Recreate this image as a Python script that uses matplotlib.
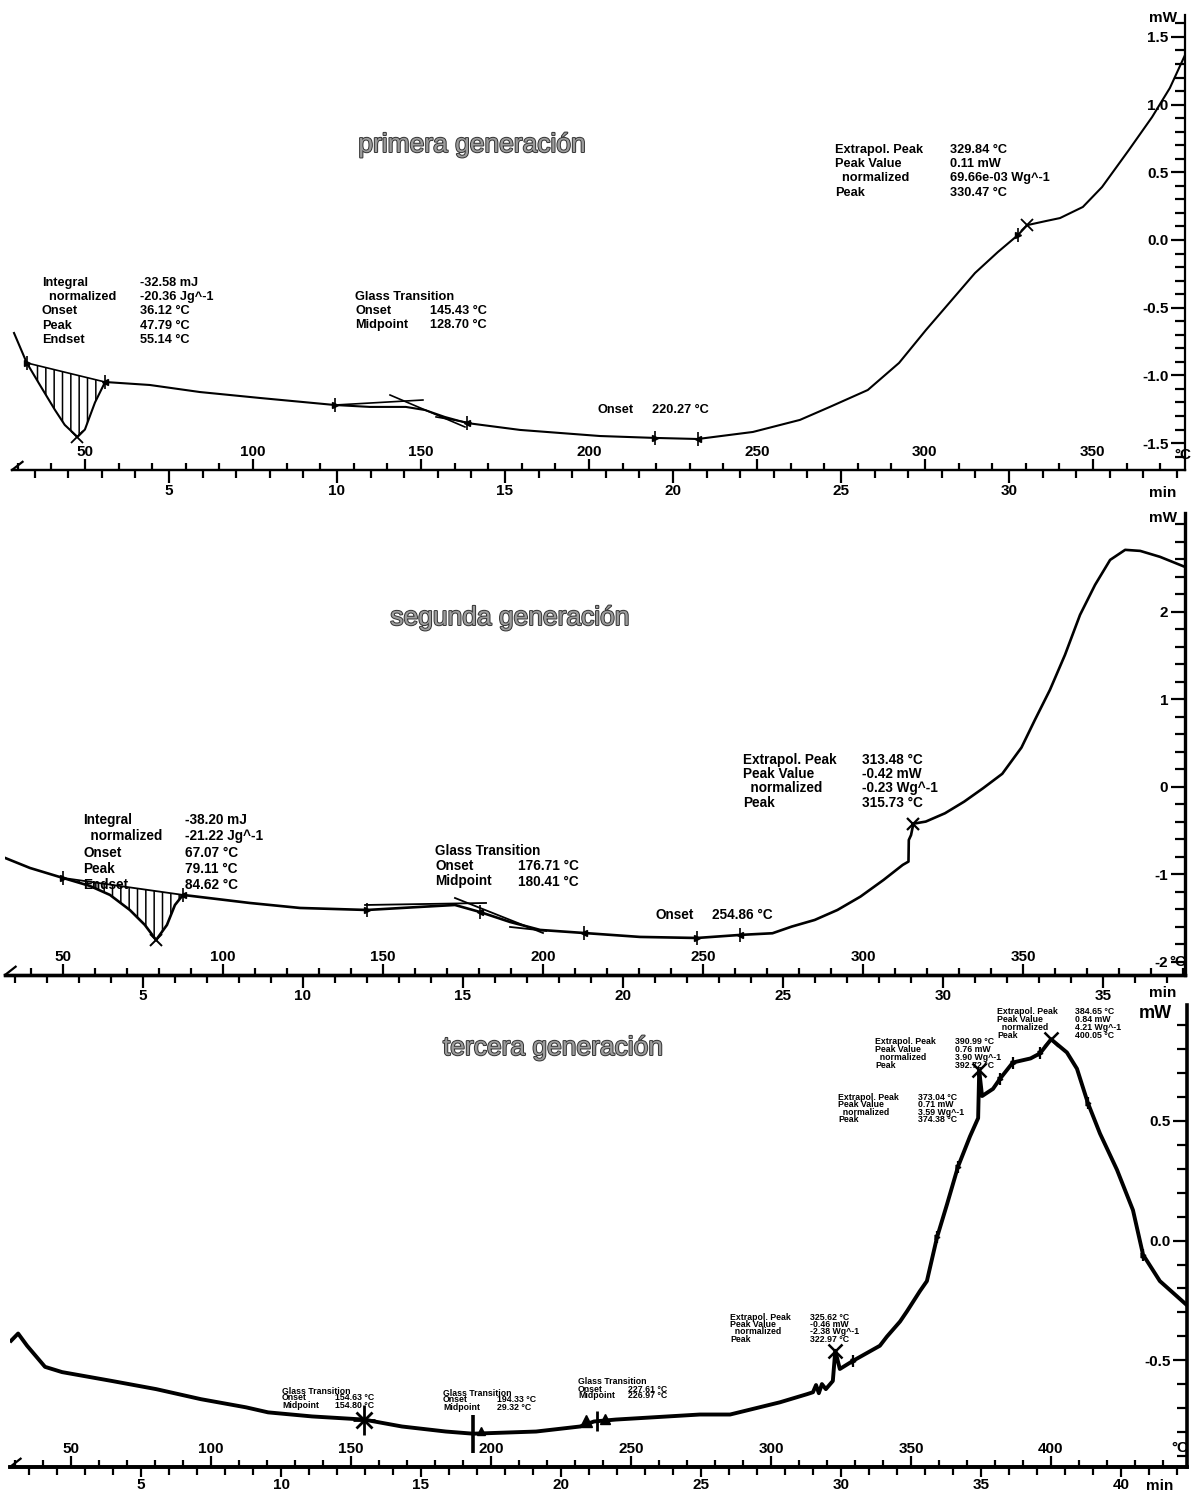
import numpy as np
import matplotlib
matplotlib.use("Agg")
import matplotlib.pyplot as plt
import matplotlib.patheffects as pe
from matplotlib.ticker import MultipleLocator

plt.rcParams['font.family'] = ['Liberation Sans', 'DejaVu Sans']
plt.rcParams['hatch.linewidth'] = 1.1

# ---------------- primera generación ----------------
g1_temp = [28.9, 32.7, 36.6, 41.1, 44.0, 47.79, 50.0, 53.0, 56.0, 69.3, 84.2, 102.1,
           124.4, 134.8, 145.5, 151.2, 157.1, 163.7, 179.5, 203.3, 219.6, 232.4,
           248.8, 262.8, 271.7, 283.0, 292.3, 300.3, 308.0, 314.9, 321.7, 327.7,
           330.47, 336.0, 340.2, 347.0, 352.7, 360.7, 367.6, 372.9, 377.4]
g1_mw = [-0.687, -0.908, -1.071, -1.256, -1.366, -1.455, -1.400, -1.200, -1.049, -1.071,
         -1.123, -1.167, -1.219, -1.233, -1.233, -1.256, -1.307, -1.352, -1.403, -1.448,
         -1.462, -1.470, -1.418, -1.329, -1.233, -1.108, -0.908, -0.665, -0.443, -0.244,
         -0.089, 0.037, 0.11, 0.140, 0.162, 0.244, 0.391, 0.665, 0.908, 1.123, 1.366]
g1_melt_limits = [32.7, 56.0]
g1_left_flags = [124.4, 219.6, 327.7]
g1_right_flags = [163.7, 232.4]
g1_peak = [330.47, 0.11]
g1_melt_peak = [47.79, -1.455]
g1_tg_upper = ([124.4, 150.6], [-1.219, -1.182])
g1_tg_inflect = ([140.8, 163.1], [-1.145, -1.381])
g1_tg_lower = ([154.5, 164.9], [-1.307, -1.352])
g1_temp_ticks = [50, 100, 150, 200, 250, 300, 350]
g1_min_ticks = [5, 10, 15, 20, 25, 30]
g1_mw_ticks = [-1.5, -1.0, -0.5, 0.0, 0.5, 1.0, 1.5]
g1_mw_labels = ['-1.5', '-1.0', '-0.5', '0.0', '0.5', '1.0', '1.5']

# ---------------- segunda generación ----------------
g2_temp = [31.9, 39.7, 50.0, 58.4, 64.7, 70.9, 75.6, 79.11, 82.5, 85.0, 87.5, 108.4,
           124.1, 145.0, 161.6, 172.5, 180.3, 189.7, 199.1, 212.8, 230.3, 248.1,
           261.6, 271.7, 277.7, 284.9, 292.0, 299.2, 306.4, 312.4, 314.2, 314.3,
           315.0, 315.73, 319.6, 325.6, 331.6, 337.5, 343.5, 349.5, 353.7, 358.4,
           363.1, 367.8, 372.5, 377.2, 381.9, 386.6, 392.8, 400.6]
g2_mw = [-0.811, -0.926, -1.04, -1.131, -1.234, -1.406, -1.577, -1.749, -1.577, -1.349,
         -1.234, -1.326, -1.383, -1.406, -1.371, -1.349, -1.429, -1.543, -1.634, -1.669,
         -1.714, -1.726, -1.691, -1.672, -1.596, -1.52, -1.406, -1.253, -1.063, -0.891,
         -0.853, -0.606, -0.55, -0.42, -0.396, -0.301, -0.168, -0.015, 0.15, 0.45,
         0.766, 1.109, 1.509, 1.966, 2.309, 2.594, 2.709, 2.697, 2.629, 2.514]
g2_melt_limits = [50.0, 87.5]
g2_left_flags = [145.0, 248.1]
g2_right_flags = [180.3, 212.8, 261.6]
g2_peak = [315.73, -0.42]
g2_melt_peak = [79.11, -1.749]
g2_tg_upper = ([144.4, 182.2], [-1.349, -1.326])
g2_tg_inflect = ([172.5, 200.0], [-1.269, -1.669])
g2_tg_lower = ([189.7, 201.0], [-1.60, -1.645])
g2_temp_ticks = [50, 100, 150, 200, 250, 300, 350]
g2_min_ticks = [5, 10, 15, 20, 25, 30, 35]
g2_mw_ticks = [-2, -1, 0, 1, 2]
g2_mw_labels = ['-2', '-1', '0', '1', '2']

# ---------------- tercera generación ----------------
g3_temp = [28.6, 31.1, 34.3, 40.7, 46.8, 64.6, 80.4, 96.4, 112.5, 120.4, 136.1, 154.6,
           168.2, 183.9, 193.6, 216.1, 231.8, 236.8, 244.6, 274.6, 285.4, 303.2,
           312.9, 315.0, 316.1, 317.1, 318.2, 319.6, 322.1, 322.97, 324.6, 329.3,
           338.9, 341.4, 346.1, 348.6, 353.2, 355.7, 359.3, 362.9, 366.8, 371.1,
           374.0, 374.38, 375.4, 379.3, 381.8, 386.4, 392.72, 396.1, 400.05, 405.7,
           409.3, 413.2, 417.5, 423.6, 429.3, 432.9, 438.9, 448.6]
g3_mw = [-0.418, -0.388, -0.439, -0.527, -0.549, -0.586, -0.620, -0.662, -0.696, -0.717,
         -0.734, -0.747, -0.776, -0.797, -0.806, -0.797, -0.776, -0.755, -0.747, -0.726,
         -0.726, -0.675, -0.641, -0.633, -0.603, -0.637, -0.599, -0.62, -0.586, -0.46,
         -0.536, -0.502, -0.439, -0.401, -0.338, -0.295, -0.211, -0.169, 0.013, 0.152,
         0.308, 0.435, 0.511, 0.71, 0.603, 0.633, 0.675, 0.743, 0.76, 0.781, 0.84,
         0.785, 0.717, 0.574, 0.447, 0.295, 0.127, -0.059, -0.169, -0.270]
g3_peaks_T = [322.97, 374.38, 400.05]
g3_peaks_mw = [-0.46, 0.71, 0.84]
g3_small_flags = [359.3, 366.8, 381.8, 386.4, 396.1, 413.2, 432.9, 329.3]
g3_tg_temps = [154.6, 193.6, 236.8]
g3_temp_ticks = [50, 100, 150, 200, 250, 300, 350, 400]
g3_min_ticks = [5, 10, 15, 20, 25, 30, 35, 40]
g3_mw_ticks = [-0.5, 0.0, 0.5]
g3_mw_labels = ['-0.5', '0.0', '0.5']

# heating programme: 10 K/min starting from 25 °C
START_C = 25.0
RATE = 10.0


def to_minutes(T):
    return (np.asarray(T) - START_C) / RATE


def to_celsius(t):
    return np.asarray(t) * RATE + START_C


W, H = 1196, 1495
fig = plt.figure(figsize=(W / 100, H / 100), dpi=100)


def rect_px(left, top, right, bottom):
    return [left / W, 1 - bottom / H, (right - left) / W, (bottom - top) / H]


def ftext(x, y, s, **kw):
    kw.setdefault('va', 'center')
    kw.setdefault('ha', 'left')
    fig.text(x / W, 1 - y / H, s, **kw)


def build_panel(rect, xlim, ylim, temp_ticks, min_ticks, mw_ticks, mw_labels,
                mw_minor, spine_lw, tick_fs=11, time_len=9):
    ax = fig.add_axes(rect)
    ax.set_xlim(*xlim)
    ax.set_ylim(*ylim)
    for side in ('top', 'left', 'right', 'bottom'):
        ax.spines[side].set_visible(False)
    ax.tick_params(which='both', bottom=False, left=False,
                   labelbottom=False, labelleft=False)
    ax.patch.set_alpha(0)

    # temperature scale: ticks upwards, labels above the base line
    temp_ax = ax.secondary_xaxis(0.0)
    temp_ax.set_alignment('top')
    temp_ax.set_ticks(temp_ticks, labels=[str(v) for v in temp_ticks],
                      fontweight='bold', fontsize=tick_fs)
    temp_ax.xaxis.set_minor_locator(MultipleLocator(10))
    temp_ax.tick_params(which='major', length=8, width=1.6, pad=0)
    temp_ax.tick_params(which='minor', length=5, width=1.6)
    for sp in temp_ax.spines.values():
        sp.set_linewidth(spine_lw)

    # time scale: ticks downwards, labels below
    time_ax = ax.secondary_xaxis('bottom', functions=(to_minutes, to_celsius))
    time_ax.set_ticks(min_ticks, labels=[str(v) for v in min_ticks],
                      fontweight='bold', fontsize=tick_fs)
    time_ax.xaxis.set_minor_locator(MultipleLocator(1))
    time_ax.tick_params(which='major', length=time_len, width=1.6, pad=1)
    time_ax.tick_params(which='minor', length=6, width=1.6)
    for sp in time_ax.spines.values():
        sp.set_linewidth(spine_lw)

    # heat flow scale on the right, labels to the left of the line
    mw_ax = ax.secondary_yaxis('right')
    mw_ax.set_alignment('left')
    mw_ax.set_ticks(mw_ticks, labels=mw_labels, fontweight='bold', fontsize=tick_fs)
    mw_ax.yaxis.set_minor_locator(MultipleLocator(mw_minor))
    mw_ax.tick_params(which='major', length=10, width=1.6, pad=2)
    mw_ax.tick_params(which='minor', length=7, width=1.6)
    for sp in mw_ax.spines.values():
        sp.set_linewidth(spine_lw)

    # small arrow head at the start of the base line
    ax.plot([0.0, 0.009], [0.0, 0.018], transform=ax.transAxes, color='black',
            lw=1.6, clip_on=False)
    return ax


def flags(ax, temps, curve_T, curve_mw, side, size=6, lw=1.2):
    ys = np.interp(temps, curve_T, curve_mw)
    ax.plot(temps, ys, ls='none', marker='|', ms=size * 1.6, mew=lw, color='black')
    ax.plot(temps, ys, ls='none', marker=side, ms=size * 0.7, color='black')


def melt_area(ax, curve_T, curve_mw, limits, lw):
    T = np.asarray(curve_T)
    m = np.asarray(curve_mw)
    sel = (T >= limits[0]) & (T <= limits[1])
    lim_mw = np.interp(limits, T, m)
    base = np.interp(T[sel], limits, lim_mw)
    ax.fill_between(T[sel], base, m[sel], facecolor='none', edgecolor='black',
                    hatch='||', linewidth=0)
    ax.plot(limits, lim_mw, color='black', lw=lw)


# ---------------- panel 1 ----------------
ax1 = build_panel(rect_px(12, 15, 1185, 470), (28.3, 377.4), (-1.699, 1.662),
                  g1_temp_ticks, g1_min_ticks, g1_mw_ticks, g1_mw_labels, 0.1, 1.6)
ax1.plot(g1_temp, g1_mw, color='black', lw=1.5)
melt_area(ax1, g1_temp, g1_mw, g1_melt_limits, 1.2)
flags(ax1, g1_melt_limits[:1], g1_temp, g1_mw, '>')
flags(ax1, g1_melt_limits[1:], g1_temp, g1_mw, '<')
flags(ax1, g1_left_flags, g1_temp, g1_mw, '>')
flags(ax1, g1_right_flags, g1_temp, g1_mw, '<')
for seg in (g1_tg_upper, g1_tg_inflect, g1_tg_lower):
    ax1.plot(seg[0], seg[1], color='black', lw=1.2)
ax1.plot(*g1_melt_peak, marker='x', ms=9, mew=1.3, color='black')
ax1.plot(*g1_peak, marker='x', ms=9, mew=1.3, color='black')

# ---------------- panel 2 ----------------
ax2 = build_panel(rect_px(5, 513, 1185, 975), (31.9, 400.6), (-2.149, 3.13),
                  g2_temp_ticks, g2_min_ticks, g2_mw_ticks, g2_mw_labels, 0.2, 2.4)
ax2.plot(g2_temp, g2_mw, color='black', lw=1.9)
melt_area(ax2, g2_temp, g2_mw, g2_melt_limits, 1.3)
flags(ax2, g2_melt_limits[:1], g2_temp, g2_mw, '>')
flags(ax2, g2_melt_limits[1:], g2_temp, g2_mw, '<')
flags(ax2, g2_left_flags, g2_temp, g2_mw, '>')
flags(ax2, g2_right_flags, g2_temp, g2_mw, '<')
for seg in (g2_tg_upper, g2_tg_inflect, g2_tg_lower):
    ax2.plot(seg[0], seg[1], color='black', lw=1.3)
ax2.plot(*g2_melt_peak, marker='x', ms=9, mew=1.4, color='black')
ax2.plot(*g2_peak, marker='x', ms=9, mew=1.6, color='black')

# ---------------- panel 3 ----------------
ax3 = build_panel(rect_px(10, 1005, 1187, 1467), (28.2, 448.6), (-0.945, 0.983),
                  g3_temp_ticks, g3_min_ticks, g3_mw_ticks, g3_mw_labels, 0.1, 2.6,
                  time_len=7)
ax3.plot(g3_temp, g3_mw, color='black', lw=2.8, solid_joinstyle='round')
ax3.plot(g3_peaks_T, g3_peaks_mw, ls='none', marker='x', ms=10, mew=1.8, color='black')
flags(ax3, g3_small_flags, g3_temp, g3_mw, '>', size=5, lw=1.6)
tg_mw = np.interp(g3_tg_temps, g3_temp, g3_mw)
ax3.plot(g3_tg_temps[0], tg_mw[0], marker='x', ms=12, mew=2.0, color='black')
ax3.plot(g3_tg_temps[0], tg_mw[0], marker='|', ms=22, mew=2.0, color='black')
ax3.plot(g3_tg_temps[0], tg_mw[0], marker='_', ms=16, mew=2.0, color='black')
ax3.plot(g3_tg_temps[1], tg_mw[1], marker='|', ms=28, mew=2.6, color='black')
ax3.plot(g3_tg_temps[1] + 3, tg_mw[1] + 0.01, marker='^', ms=6, color='black')
ax3.plot(np.array(g3_tg_temps[2]) - 3, tg_mw[2], marker='^', ms=8, color='black')
ax3.plot(g3_tg_temps[2] + 1, tg_mw[2], marker='|', ms=14, mew=2.0, color='black')
ax3.plot(g3_tg_temps[2] + 4, tg_mw[2] + 0.01, marker='^', ms=7, color='black')

# ---------------- axis captions ----------------
cap = dict(fontweight='bold', fontsize=11)
ftext(1163, 18, 'mW', ha='center', **cap)
ftext(1183, 455, '°C', ha='center', **cap)
ftext(1163, 493, 'min', ha='center', **cap)
ftext(1163, 518, 'mW', ha='center', **cap)
ftext(1178, 962, '°C', ha='center', **cap)
ftext(1163, 993, 'min', ha='center', **cap)
ftext(1155, 1013, 'mW', ha='center', fontweight='bold', fontsize=13)
ftext(1180, 1448, '°C', ha='center', **cap)
ftext(1160, 1486, 'min', ha='center', **cap)

# ---------------- titles ----------------
title_kw = dict(ha='center', fontsize=19, color='#9c9c9c', fontweight='normal',
                path_effects=[pe.withStroke(linewidth=1.4, foreground='#333333')])
ftext(472, 145, 'primera generación', **title_kw)
ftext(510, 618, 'segunda generación', **title_kw)
ftext(553, 1048, 'tercera generación', **title_kw)


def block(x, y, rows, vx, dy, size, weight='normal'):
    for i, (lab, val) in enumerate(rows):
        ftext(x, y + i * dy, lab, fontsize=size, fontweight=weight)
        ftext(vx, y + i * dy, val, fontsize=size, fontweight=weight)


# panel 1 evaluations
p1 = 9.2
block(42, 283, [('Integral', '-32.58 mJ'), ('  normalized', '-20.36 Jg^-1'),
                ('Onset', '36.12 °C'), ('Peak', '47.79 °C'), ('Endset', '55.14 °C')],
      140, 14.2, p1, 'bold')
ftext(355, 297, 'Glass Transition', fontsize=p1, fontweight='bold')
block(355, 311, [('Onset', '145.43 °C'), ('Midpoint', '128.70 °C')], 430, 14.2, p1, 'bold')
block(835, 150, [('Extrapol. Peak', '329.84 °C'), ('Peak Value', '0.11 mW'),
                 ('  normalized', '69.66e-03 Wg^-1'), ('Peak', '330.47 °C')],
      950, 14.2, p1, 'bold')
block(597, 410, [('Onset', '220.27 °C')], 652, 14, p1, 'bold')

# panel 2 evaluations
p2 = 9.8
block(83, 820, [('Integral', '-38.20 mJ'), ('  normalized', '-21.22 Jg^-1'),
                ('Onset', '67.07 °C'), ('Peak', '79.11 °C'), ('Endset', '84.62 °C')],
      185, 16.3, p2, 'bold')
ftext(435, 851, 'Glass Transition', fontsize=p2, fontweight='bold')
block(435, 866, [('Onset', '176.71 °C'), ('Midpoint', '180.41 °C')], 518, 15.5, p2, 'bold')
block(743, 760, [('Extrapol. Peak', '313.48 °C'), ('Peak Value', '-0.42 mW'),
                 ('  normalized', '-0.23 Wg^-1'), ('Peak', '315.73 °C')],
      862, 14.2, p2, 'bold')
block(656, 915, [('Onset', '254.86 °C')], 712, 14, p2, 'bold')

# panel 3 evaluations
small = 6.3
block(997, 1012, [('Extrapol. Peak', '384.65 °C'), ('Peak Value', '0.84 mW'),
                  ('  normalized', '4.21 Wg^-1'), ('Peak', '400.05 °C')],
      1075, 7.8, small, 'bold')
block(875, 1042, [('Extrapol. Peak', '390.99 °C'), ('Peak Value', '0.76 mW'),
                  ('  normalized', '3.90 Wg^-1'), ('Peak', '392.72 °C')],
      955, 7.8, small, 'bold')
block(838, 1097, [('Extrapol. Peak', '373.04 °C'), ('Peak Value', '0.71 mW'),
                  ('  normalized', '3.59 Wg^-1'), ('Peak', '374.38 °C')],
      918, 7.6, small, 'bold')
block(730, 1317, [('Extrapol. Peak', '325.62 °C'), ('Peak Value', '-0.46 mW'),
                  ('  normalized', '-2.38 Wg^-1'), ('Peak', '322.97 °C')],
      810, 7.4, small, 'bold')
ftext(282, 1391, 'Glass Transition', fontsize=small, fontweight='bold')
block(282, 1398, [('Onset', '154.63 °C'), ('Midpoint', '154.80 °C')], 335, 7, small, 'bold')
ftext(443, 1393, 'Glass Transition', fontsize=small, fontweight='bold')
block(443, 1400, [('Onset', '194.33 °C'), ('Midpoint', '29.32 °C')], 497, 7, small, 'bold')
ftext(578, 1382, 'Glass Transition', fontsize=small, fontweight='bold')
block(578, 1389, [('Onset', '227.61 °C'), ('Midpoint', '226.97 °C')], 628, 7, small, 'bold')

fig.savefig('out.png', dpi=100)
